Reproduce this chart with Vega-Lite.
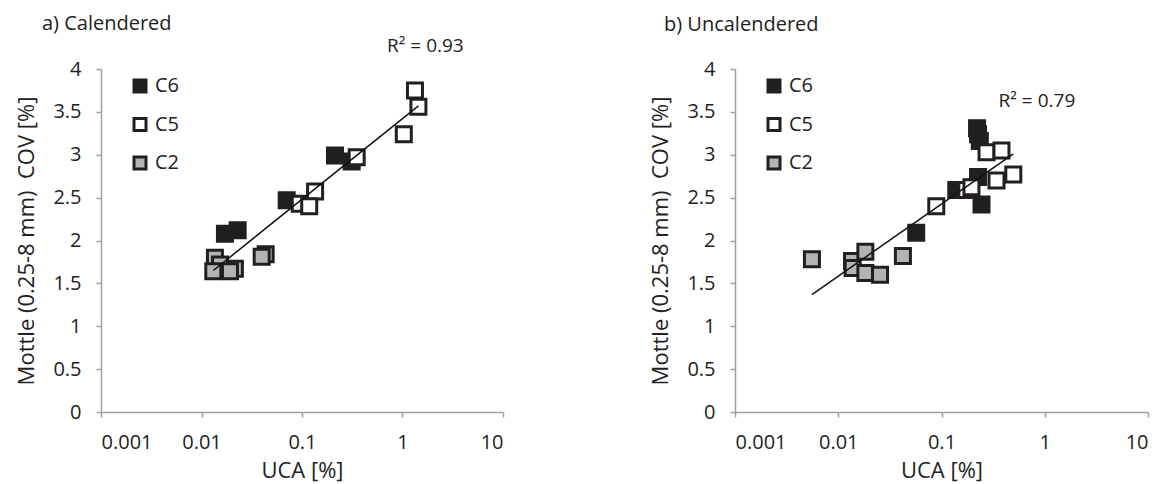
{
  "$schema": "https://vega.github.io/schema/vega-lite/v6.json",
  "background": "white",
  "padding": {"left": 15, "top": 13, "right": 5, "bottom": 6},
  "config": {
    "font": "Open Sans",
    "view": {"stroke": null},
    "axis": {
      "grid": false,
      "domainColor": "#a0a0a0",
      "domainWidth": 1.5,
      "tickColor": "#a0a0a0",
      "tickWidth": 1.5,
      "tickSize": 5,
      "labelFont": "Open Sans",
      "labelFontSize": 20,
      "labelColor": "#222",
      "labelPadding": 15,
      "titleFont": "Open Sans",
      "titleFontSize": 22,
      "titleFontWeight": "normal",
      "titleColor": "#222"
    },
    "legend": {
      "labelFont": "Open Sans",
      "labelFontSize": 20,
      "labelColor": "#222",
      "symbolType": "square",
      "symbolSize": 144,
      "symbolStrokeColor": "#231f20",
      "symbolStrokeWidth": 3,
      "rowPadding": 14.5,
      "labelOffset": 5,
      "padding": 0
    }
  },
  "datasets": {
    "pts": [
      {"panel": "a", "series": "C6", "uca": 0.213, "cov": 2.99},
      {"panel": "a", "series": "C6", "uca": 0.312, "cov": 2.92},
      {"panel": "a", "series": "C6", "uca": 0.0704, "cov": 2.47},
      {"panel": "a", "series": "C6", "uca": 0.0171, "cov": 2.08},
      {"panel": "a", "series": "C6", "uca": 0.0229, "cov": 2.12},
      {"panel": "a", "series": "C5", "uca": 1.33, "cov": 3.75},
      {"panel": "a", "series": "C5", "uca": 1.44, "cov": 3.56},
      {"panel": "a", "series": "C5", "uca": 1.03, "cov": 3.24},
      {"panel": "a", "series": "C5", "uca": 0.35, "cov": 2.97},
      {"panel": "a", "series": "C5", "uca": 0.135, "cov": 2.57},
      {"panel": "a", "series": "C5", "uca": 0.095, "cov": 2.43},
      {"panel": "a", "series": "C5", "uca": 0.118, "cov": 2.40},
      {"panel": "a", "series": "C2", "uca": 0.0136, "cov": 1.80},
      {"panel": "a", "series": "C2", "uca": 0.0153, "cov": 1.72},
      {"panel": "a", "series": "C2", "uca": 0.0215, "cov": 1.67},
      {"panel": "a", "series": "C2", "uca": 0.0131, "cov": 1.64},
      {"panel": "a", "series": "C2", "uca": 0.0192, "cov": 1.64},
      {"panel": "a", "series": "C2", "uca": 0.0435, "cov": 1.84},
      {"panel": "a", "series": "C2", "uca": 0.0397, "cov": 1.81},
      {"panel": "b", "series": "C6", "uca": 0.221, "cov": 3.31},
      {"panel": "b", "series": "C6", "uca": 0.226, "cov": 3.24},
      {"panel": "b", "series": "C6", "uca": 0.235, "cov": 3.16},
      {"panel": "b", "series": "C6", "uca": 0.226, "cov": 2.74},
      {"panel": "b", "series": "C6", "uca": 0.139, "cov": 2.59},
      {"panel": "b", "series": "C6", "uca": 0.244, "cov": 2.42},
      {"panel": "b", "series": "C6", "uca": 0.0569, "cov": 2.09},
      {"panel": "b", "series": "C5", "uca": 0.273, "cov": 3.03},
      {"panel": "b", "series": "C5", "uca": 0.381, "cov": 3.05},
      {"panel": "b", "series": "C5", "uca": 0.496, "cov": 2.77},
      {"panel": "b", "series": "C5", "uca": 0.341, "cov": 2.70},
      {"panel": "b", "series": "C5", "uca": 0.174, "cov": 2.59},
      {"panel": "b", "series": "C5", "uca": 0.195, "cov": 2.62},
      {"panel": "b", "series": "C5", "uca": 0.089, "cov": 2.40},
      {"panel": "b", "series": "C2", "uca": 0.00556, "cov": 1.78},
      {"panel": "b", "series": "C2", "uca": 0.0136, "cov": 1.76},
      {"panel": "b", "series": "C2", "uca": 0.0183, "cov": 1.87},
      {"panel": "b", "series": "C2", "uca": 0.0138, "cov": 1.68},
      {"panel": "b", "series": "C2", "uca": 0.0183, "cov": 1.62},
      {"panel": "b", "series": "C2", "uca": 0.0254, "cov": 1.60},
      {"panel": "b", "series": "C2", "uca": 0.0423, "cov": 1.82}
    ],
    "trend": [
      {"panel": "a", "uca": 0.0131, "cov": 1.65},
      {"panel": "a", "uca": 1.44, "cov": 3.57},
      {"panel": "b", "uca": 0.00556, "cov": 1.37},
      {"panel": "b", "uca": 0.496, "cov": 3.01}
    ],
    "r2": [
      {"panel": "a", "label": "R² = 0.93", "uca": 1.69, "cov": 4.27},
      {"panel": "b", "label": "R² = 0.79", "uca": 0.84, "cov": 3.63}
    ]
  },
  "resolve": {"scale": {"fill": "independent"}, "legend": {"fill": "independent"}},
  "spacing": 145,
  "hconcat": [
    {
      "width": 402,
      "height": 343,
      "title": {"text": "a) Calendered", "anchor": "start", "frame": "group", "dx": -59, "fontSize": 20, "fontWeight": "normal", "font": "Open Sans", "color": "#222", "offset": 3},
      "layer": [
        {
          "data": {"name": "pts"},
          "transform": [{"filter": "datum.panel === 'a'"}],
          "mark": {"type": "point", "shape": "square", "size": 225, "filled": true, "stroke": "#231f20", "strokeWidth": 3, "opacity": 1},
          "encoding": {
            "x": {"field": "uca", "type": "quantitative", "scale": {"type": "log", "domain": [0.001, 10]}, "axis": {"values": [0.001, 0.01, 0.1, 1, 10], "format": "~g", "title": "UCA [%]", "labelPadding": 15, "titlePadding": 8}},
            "y": {"field": "cov", "type": "quantitative", "scale": {"domain": [0, 4], "nice": false}, "axis": {"values": [0, 0.5, 1, 1.5, 2, 2.5, 3, 3.5, 4], "format": "~g", "title": "Mottle (0.25-8 mm)\u00a0 COV [%]", "titlePadding": 14}},
            "fill": {"field": "series", "type": "nominal", "scale": {"domain": ["C6", "C5", "C2"], "range": ["#1f1f1f", "#ffffff", "#b3b3b5"]}, "legend": {"title": null, "orient": "none", "legendX": 29, "legendY": 7}}
          }
        },
        {
          "data": {"name": "trend"},
          "transform": [{"filter": "datum.panel === 'a'"}],
          "mark": {"type": "line", "color": "#111", "strokeWidth": 1.5},
          "encoding": {"x": {"field": "uca", "type": "quantitative"}, "y": {"field": "cov", "type": "quantitative"}}
        },
        {
          "data": {"name": "r2"},
          "transform": [{"filter": "datum.panel === 'a'"}],
          "mark": {"type": "text", "fontSize": 19, "color": "#222", "font": "Open Sans"},
          "encoding": {"x": {"field": "uca", "type": "quantitative"}, "y": {"field": "cov", "type": "quantitative"}, "text": {"field": "label"}}
        }
      ]
    },
    {
      "width": 413,
      "height": 343,
      "title": {"text": "b) Uncalendered", "anchor": "start", "frame": "group", "dx": -71, "fontSize": 20, "fontWeight": "normal", "font": "Open Sans", "color": "#222", "offset": 24},
      "layer": [
        {
          "data": {"name": "pts"},
          "transform": [{"filter": "datum.panel === 'b'"}],
          "mark": {"type": "point", "shape": "square", "size": 225, "filled": true, "stroke": "#231f20", "strokeWidth": 3, "opacity": 1},
          "encoding": {
            "x": {"field": "uca", "type": "quantitative", "scale": {"type": "log", "domain": [0.001, 10]}, "axis": {"values": [0.001, 0.01, 0.1, 1, 10], "format": "~g", "title": "UCA [%]", "labelPadding": 15, "titlePadding": 8}},
            "y": {"field": "cov", "type": "quantitative", "scale": {"domain": [0, 4], "nice": false}, "axis": {"values": [0, 0.5, 1, 1.5, 2, 2.5, 3, 3.5, 4], "format": "~g", "title": "Mottle (0.25-8 mm)\u00a0 COV [%]", "titlePadding": 14}},
            "fill": {"field": "series", "type": "nominal", "scale": {"domain": ["C6", "C5", "C2"], "range": ["#1f1f1f", "#ffffff", "#b3b3b5"]}, "legend": {"title": null, "orient": "none", "legendX": 29, "legendY": 7}}
          }
        },
        {
          "data": {"name": "trend"},
          "transform": [{"filter": "datum.panel === 'b'"}],
          "mark": {"type": "line", "color": "#111", "strokeWidth": 1.5},
          "encoding": {"x": {"field": "uca", "type": "quantitative"}, "y": {"field": "cov", "type": "quantitative"}}
        },
        {
          "data": {"name": "r2"},
          "transform": [{"filter": "datum.panel === 'b'"}],
          "mark": {"type": "text", "fontSize": 19, "color": "#222", "font": "Open Sans"},
          "encoding": {"x": {"field": "uca", "type": "quantitative"}, "y": {"field": "cov", "type": "quantitative"}, "text": {"field": "label"}}
        }
      ]
    }
  ]
}
